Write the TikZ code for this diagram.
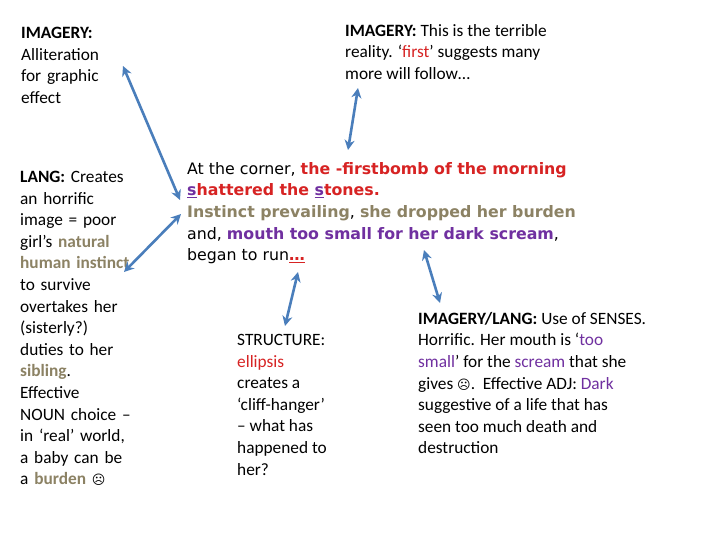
\documentclass[tikz,border=0pt]{standalone}
\usepackage{fontspec}
\setmainfont{Carlito}
\newfontfamily\comic{DejaVu Sans}
\newfontfamily\sym{DejaVu Sans}
\definecolor{myred}{RGB}{215,35,35}
\definecolor{olive}{RGB}{140,130,100}
\definecolor{purp}{RGB}{112,48,160}
\definecolor{arr}{RGB}{74,126,187}
\usetikzlibrary{arrows.meta}
\tikzset{
 txt/.style={anchor=north west,inner sep=0pt,align=left,font=\fontsize{17.3}{21.6}\selectfont},
 pass/.style={anchor=north west,inner sep=0pt,align=left,font=\comic\fontsize{15.8}{21.6}\selectfont},
 dbl/.style={arr,line width=2.6pt,{Stealth[length=10pt,width=10pt]}-{Stealth[length=10pt,width=10pt]}}
}
\newcommand{\us}[1]{\underline{\textcolor{purp}{#1}}}
\begin{document}
\begin{tikzpicture}[x=1pt,y=-1pt]
\useasboundingbox[fill=white] (0,0) rectangle (720,540);
\node[txt,text width=130pt] (l1) at (21,27) {\textbf{IMAGERY:}\\Alliteration\\for graphic\\effect};
\node[txt,text width=130pt] (l2) at (20,171) {\textbf{LANG:} Creates\\an horrific\\image = poor\\girl’s \textcolor{olive}{\textbf{natural}}\\\textcolor{olive}{\textbf{human instinct}}\\to survive\\overtakes her\\(sisterly?)\\duties to her\\\textcolor{olive}{\textbf{sibling}}.\\Effective\\NOUN choice –\\in ‘real’ world,\\a baby can be\\a \textcolor{olive}{\textbf{burden}} {\sym\fontsize{13}{13}\selectfont ☹}};
\node[txt] (top) at (345,24) {\textbf{IMAGERY:} This is the terrible\\reality. ‘\textcolor{myred}{first}’ suggests many\\more will follow…};
\node[pass] (p) at (187,162) {At the corner, \textcolor{myred}{\textbf{the -firstbomb of the morning}}\\\textcolor{purp}{\textbf{\us{s}}}\textcolor{myred}{\textbf{hattered the }}\textcolor{purp}{\textbf{\us{s}}}\textcolor{myred}{\textbf{tones.}}\\\textcolor{olive}{\textbf{Instinct prevailing}}, \textcolor{olive}{\textbf{she dropped her burden}}\\and, \textcolor{purp}{\textbf{mouth too small for her dark scream}},\\began to run\textcolor{myred}{\underline{\textbf{…}}}};
\node[txt] (s) at (237,334) {STRUCTURE:\\\textcolor{myred}{ellipsis}\\creates a\\‘cliff-hanger’\\– what has\\happened to\\her?};
\node[txt] (g) at (418,312) {\textbf{IMAGERY/LANG:} Use of SENSES.\\Horrific. Her mouth is ‘\textcolor{purp}{too}\\\textcolor{purp}{small}’ for the \textcolor{purp}{scream} that she\\gives {\sym\fontsize{13}{13}\selectfont ☹}.\ \ Effective ADJ: \textcolor{purp}{Dark}\\suggestive of a life that has\\seen too much death and\\destruction};
\coordinate (a1) at (123,66); \coordinate (a2) at (180,200);
\coordinate (b1) at (124,272); \coordinate (b2) at (181,214);
\coordinate (c1) at (358,88); \coordinate (c2) at (348,150);
\coordinate (d1) at (298,272); \coordinate (d2) at (285,326);
\coordinate (e1) at (424,250); \coordinate (e2) at (440,303);
\draw[dbl] (a1) -- (a2);
\draw[dbl] (b1) -- (b2);
\draw[dbl] (c1) -- (c2);
\draw[dbl] (d1) -- (d2);
\draw[dbl] (e1) -- (e2);
\end{tikzpicture}
\end{document}
